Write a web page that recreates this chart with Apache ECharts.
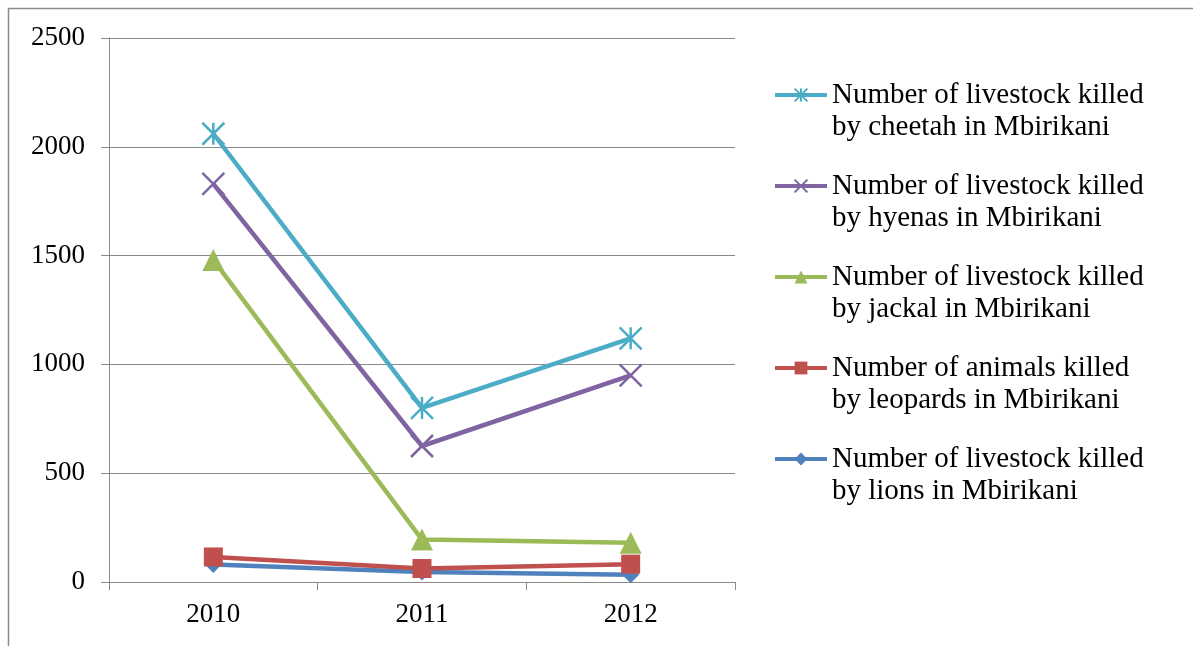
<!DOCTYPE html>
<html>
<head>
<meta charset="utf-8">
<script src="https://cdn.jsdelivr.net/npm/echarts@6/dist/echarts.min.js"></script>
<style>
html,body{margin:0;padding:0;background:#fff;}
#chart{width:1193px;height:646px;}
</style>
</head>
<body>
<div id="chart"></div>
<script>
const years = ['2010', '2011', '2012'];
const seriesNames = [
  'Number of livestock killed\nby cheetah in Mbirikani',
  'Number of livestock killed\nby hyenas in Mbirikani',
  'Number of livestock killed\nby jackal in Mbirikani',
  'Number of animals killed\nby leopards in Mbirikani',
  'Number of livestock killed\nby lions in Mbirikani'
];
const cheetah = [2060, 800, 1120];
const hyenas = [1830, 625, 950];
const jackal = [1480, 195, 180];
const leopards = [115, 62, 82];
const lions = [80, 46, 33];
const yTicks = [0, 500, 1000, 1500, 2000, 2500];

const colors = ['#4BACC6', '#8064A2', '#9BBB59', '#C0504D', '#4F81BD'];
const symbols = [
  'path://M0,0L10,10M10,0L0,10M5,0L5,10',
  'path://M0,0L10,10M10,0L0,10',
  'triangle',
  'rect',
  'diamond'
];
const symbolSizes = [22, 22, 22, 19, 17];
const strokeSymbol = [true, true, false, false, false];
const dataSets = [cheetah, hyenas, jackal, leopards, lions];

const FONT = 'Liberation Serif';

const series = dataSets.map((d, i) => ({
  name: seriesNames[i],
  type: 'line',
  data: d,
  symbol: symbols[i],
  symbolSize: symbolSizes[i],
  showAllSymbol: true,
  z: 10 - i,
  lineStyle: { color: colors[i], width: 4.5 },
  itemStyle: strokeSymbol[i]
    ? { color: 'rgba(0,0,0,0)', borderColor: colors[i], borderWidth: 2.5 }
    : { color: colors[i], borderWidth: 0 },
  emphasis: { disabled: true },
  animation: false
}));

const chart = echarts.init(document.getElementById('chart'), null, { renderer: 'canvas' });
chart.setOption({
  backgroundColor: '#ffffff',
  animation: false,
  graphic: [{
    type: 'rect',
    shape: { x: 8.5, y: 8.5, width: 1400, height: 1000 },
    style: { fill: 'none', stroke: '#8a8a8a', lineWidth: 1.5 },
    silent: true
  }],
  grid: { left: 109, right: 1193 - 735, top: 38, bottom: 646 - 582, containLabel: false },
  xAxis: {
    type: 'category',
    data: years,
    boundaryGap: true,
    axisLine: { show: true, lineStyle: { color: '#8a8a8a', width: 1 } },
    axisTick: { show: true, length: 8, alignWithLabel: false, lineStyle: { color: '#8a8a8a' } },
    axisLabel: { fontFamily: FONT, fontSize: 27, color: '#000', margin: 19 },
    splitLine: { show: false }
  },
  yAxis: {
    type: 'value',
    min: yTicks[0],
    max: yTicks[yTicks.length - 1],
    interval: 500,
    axisLine: { show: true, lineStyle: { color: '#8a8a8a', width: 1 } },
    axisTick: { show: true, length: 8, lineStyle: { color: '#8a8a8a' } },
    axisLabel: { fontFamily: FONT, fontSize: 27, color: '#000', margin: 24, formatter: v => String(v) },
    splitLine: { show: true, lineStyle: { color: '#8a8a8a', width: 1 } }
  },
  legend: {
    orient: 'vertical',
    left: 773,
    top: 47,
    padding: 0,
    itemWidth: 52,
    itemHeight: 16,
    itemGap: -5,
    data: seriesNames,
    formatter: name => ' \n' + name,
    lineStyle: { width: 4 },
    textStyle: { fontFamily: FONT, fontSize: 29, color: '#000', lineHeight: 32 }
  },
  series: series
});
</script>
</body>
</html>
